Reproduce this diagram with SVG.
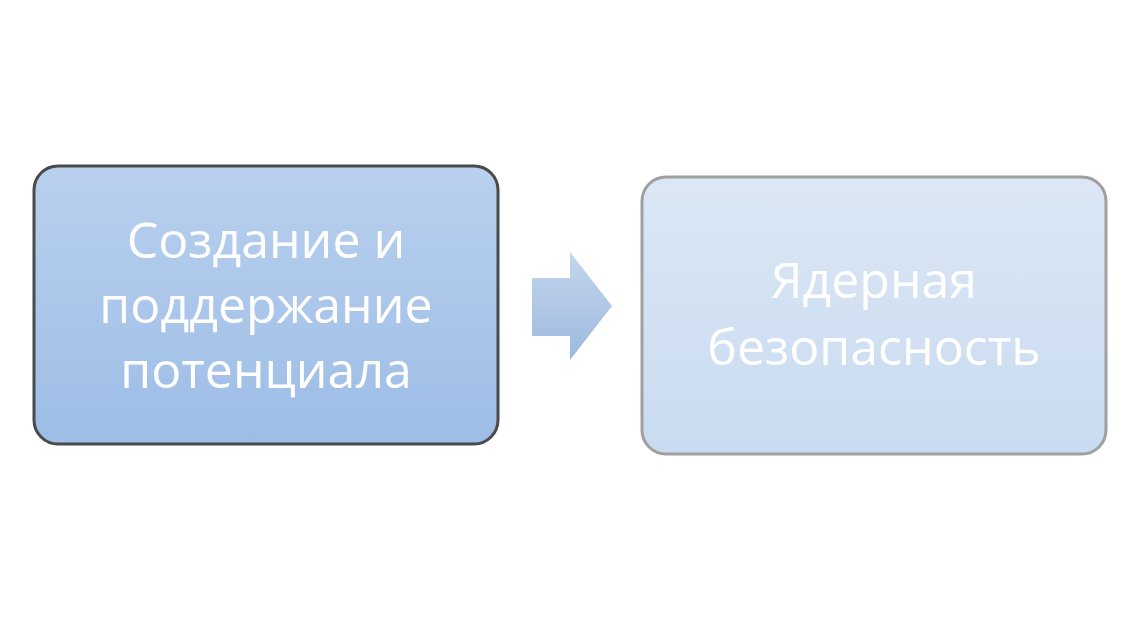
<svg xmlns="http://www.w3.org/2000/svg" width="1140" height="640" viewBox="0 0 1140 640">
<defs>
<linearGradient id="g1" x1="0" y1="0" x2="0" y2="1"><stop offset="0" stop-color="#b9d0ee"/><stop offset="1" stop-color="#9dbde6"/></linearGradient>
<linearGradient id="g2" x1="0" y1="0" x2="0" y2="1"><stop offset="0" stop-color="#dbe7f5"/><stop offset="1" stop-color="#c9dbf0"/></linearGradient>
<linearGradient id="g3" x1="0" y1="0" x2="0" y2="1"><stop offset="0" stop-color="#c4d6ee"/><stop offset="1" stop-color="#9db9de"/></linearGradient>
<style>text{font-family:"Open Sans","DejaVu Sans",sans-serif;font-size:50px;fill:#fff;text-anchor:middle}</style>
</defs>
<rect width="1140" height="640" fill="#fff"/>
<g id="n1"><rect x="34" y="166" width="464" height="278" rx="24" fill="url(#g1)" stroke="#4a4a4a" stroke-width="3"/>
<text x="266" y="258">Создание и</text><text x="266" y="323">поддержание</text><text x="266" y="388">потенциала</text></g>
<g id="connectors"><polygon points="532,278 570,278 570,252 612,306 570,360 570,336 532,336" fill="url(#g3)"/></g>
<g id="n2"><rect x="642" y="177" width="464" height="277" rx="24" fill="url(#g2)" stroke="#a0a0a0" stroke-width="3"/>
<text x="874" y="298">Ядерная</text><text x="874" y="365">безопасность</text></g>
</svg>
